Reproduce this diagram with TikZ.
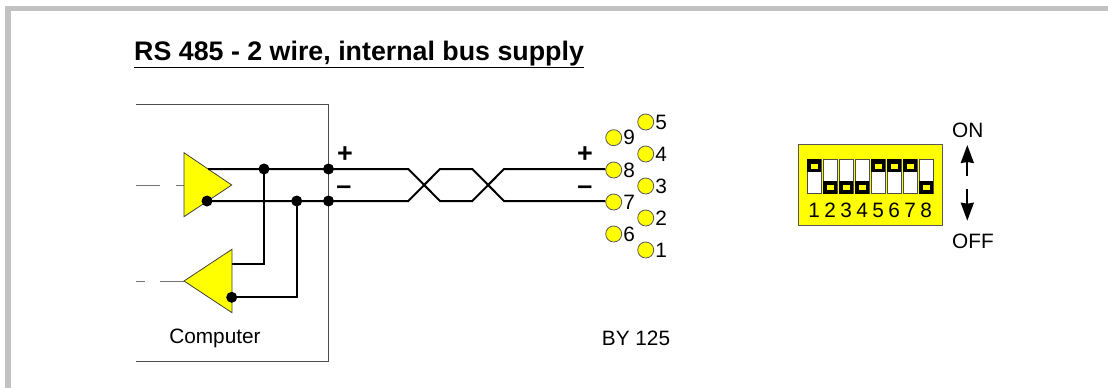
\documentclass[tikz,border=0pt]{standalone}
\usepackage{fontspec}
\setmainfont{Liberation Sans}
\usetikzlibrary{arrows.meta}
\definecolor{ylw}{RGB}{255,255,0}
\tikzset{
  x=1pt,y=-1pt,
  frame/.style={fill=black!24,draw=none},
  box/.style={draw=black!70,line width=1pt},
  thin line/.style={draw=black!55,line width=1pt},
  wire/.style={draw=black,line width=2pt,line join=miter},
  amp/.style={draw=black!75,fill=ylw,line width=.8pt,line join=miter},
  dot/.style={circle,fill=black,inner sep=0pt,minimum size=11pt},
  pin/.style={circle,draw=black!65,fill=ylw,line width=.8pt,inner sep=0pt,minimum size=16pt},
  lbl/.style={inner sep=0pt,font=\fontsize{20.8}{24}\selectfont},
  sign/.style={inner sep=0pt,font=\fontsize{27}{29}\selectfont\bfseries},
  sw/.style={draw=black!70,fill=white,line width=.7pt},
  arrowline/.style={draw=black,line width=2pt,-{Stealth[length=18pt,width=13pt,inset=1pt]}}
}
\begin{document}
\begin{tikzpicture}
\useasboundingbox (0,0) rectangle (1108,388);
% gray frame
\fill[frame] (5,6) rectangle (1108,11);
\fill[frame] (5,6) rectangle (11,388);
% title
\node[anchor=base west,inner sep=0pt,font=\fontsize{26.8}{30}\selectfont\bfseries] (title) at (134,60) {\underline{RS 485 - 2 wire, internal bus supply}};
% computer box
\coordinate (ctl) at (136,104.5);
\coordinate (ctr) at (328.5,104.5);
\coordinate (cbr) at (328.5,361);
\coordinate (cbl) at (136,361);
\draw[box] (ctl) -- (ctr) -- (cbr) -- (cbl);
% dashed inputs
\coordinate (a1) at (136,185); \coordinate (a2) at (160,185);
\coordinate (a3) at (176,185); \coordinate (a4) at (184,185);
\coordinate (b1) at (136,281); \coordinate (b2) at (145,281);
\coordinate (b3) at (160,281); \coordinate (b4) at (184,281);
\draw[thin line] (a1) -- (a2) (a3) -- (a4) (b1) -- (b2) (b3) -- (b4);
% amplifiers
\draw[amp] (184,152.7) -- (231.7,185) -- (184,216.7) -- cycle;
\draw[amp] (232,249.3) -- (184,281) -- (232,312.7) -- cycle;
% dots
\node[dot] (d1) at (264,169) {};
\node[dot] (d2) at (328.5,169) {};
\node[dot] (d3) at (207,201) {};
\node[dot] (d4) at (296.7,201) {};
\node[dot] (d5) at (328.5,201) {};
\node[dot] (d6) at (231.7,297.3) {};
\coordinate (tp) at (208,169);
\coordinate (t2) at (232,264.3);
% pins
\foreach \n/\xx/\yy in {9/613.7/137.7,8/613.7/170,7/613.7/202,6/613.7/234,5/645.7/122,4/645.7/154,3/645.7/186,2/645.7/218,1/645.7/250}{
  \node[pin] (p\n) at (\xx,\yy) {};
  \node[lbl,anchor=center] (pl\n) at ([xshift=15.5pt]\xx,\yy) {\n};
}
% wires
\coordinate (e8) at (p8.west |- d1);
\coordinate (e7) at (p7.west |- d3);
\draw[wire] (tp) -- (d1.center) -- (d2.center) -- (408.3,169) -- (440,201) -- (472.3,201) -- (504,169) -- (e8);
\draw[wire] (d3.center) -- (d4.center) -- (d5.center) -- (408.3,201) -- (440,169) -- (472.3,169) -- (504,201) -- (e7);
\draw[wire] (d1.center) |- (t2);
\draw[wire] (d4.center) |- (d6.center);
% signs
\node[sign] (s1) at (345,154.5) {+};
\node[sign] (s2) at (344,190.5) {–};
\node[sign] (s3) at (585,154.5) {+};
\node[sign] (s4) at (585,190.5) {–};
% labels
\node[lbl] (comp) at (215,338) {Computer};
\node[lbl] (by) at (636,338) {BY 125};
% DIP switch
\draw[draw=black!65,fill=ylw,line width=1pt] (798.3,144.7) rectangle (942.3,225);
\foreach \i/\st in {1/1,2/0,3/0,4/0,5/1,6/1,7/1,8/0}{
  \pgfmathsetmacro{\xl}{807.3+(\i-1)*16}
  \draw[sw] (\xl,159.3) rectangle (\xl+13.7,193.7);
  \ifnum\st=1
    \fill[black] (\xl,159.3) rectangle (\xl+13.7,171.5);
    \fill[ylw] (\xl+3.4,164) rectangle (\xl+10.3,168.8);
  \else
    \fill[black] (\xl,181.2) rectangle (\xl+13.7,193.7);
    \fill[ylw] (\xl+3.4,185) rectangle (\xl+10.3,189.8);
  \fi
  \node[lbl] (n\i) at (\xl+6.8,210) {\i};
}
% ON/OFF
\node[lbl] (on) at (967.7,130) {ON};
\node[lbl] (off) at (973,241.7) {OFF};
\coordinate (u1) at (967.3,176); \coordinate (u2) at (967.3,145);
\coordinate (v1) at (967.3,189.3); \coordinate (v2) at (967.3,220.7);
\draw[arrowline] (u1) -- (u2);
\draw[arrowline] (v1) -- (v2);
\end{tikzpicture}
\end{document}
